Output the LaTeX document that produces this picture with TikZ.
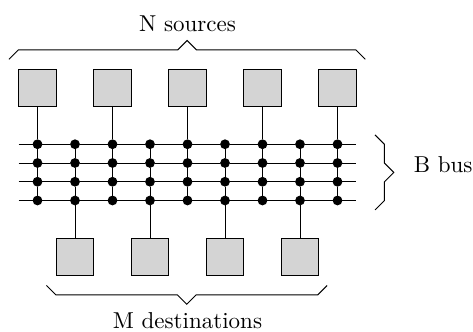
\documentclass[tikz,border=0pt]{standalone}
\usepackage{tikz}
\usetikzlibrary{graphs,positioning}
\definecolor{unitgray}{gray}{0.83}
\tikzset{
    dot/.style ={
        shape=circle,
        draw=black,
        fill=black,
        inner sep=0pt,
        minimum size=3.8pt
    },
    unit/.style ={
        shape=rectangle,
        draw=black,
        fill=unitgray,
        inner sep=0pt,
        minimum size=16.3pt
    },
    caption/.style ={
        inner sep=0pt
    }
}

\begin{document}
\begin{tikzpicture}[node distance=8.15pt and 16.3pt,on grid]
    \useasboundingbox (-16.3pt,62.7pt) rectangle (189.3pt,-81.2pt);
    % bus rows
    \node[dot] (a1) at (0,0) {};
    \node[dot,right=of a1] (a2) {};
    \node[dot,right=of a2] (a3) {};
    \node[dot,right=of a3] (a4) {};
    \node[dot,right=of a4] (a5) {};
    \node[dot,right=of a5] (a6) {};
    \node[dot,right=of a6] (a7) {};
    \node[dot,right=of a7] (a8) {};
    \node[dot,right=of a8] (a9) {};
    \node[dot,below=of a1] (b1) {};
    \node[dot,below=of a2] (b2) {};
    \node[dot,below=of a3] (b3) {};
    \node[dot,below=of a4] (b4) {};
    \node[dot,below=of a5] (b5) {};
    \node[dot,below=of a6] (b6) {};
    \node[dot,below=of a7] (b7) {};
    \node[dot,below=of a8] (b8) {};
    \node[dot,below=of a9] (b9) {};
    \node[dot,below=of b1] (c1) {};
    \node[dot,below=of b2] (c2) {};
    \node[dot,below=of b3] (c3) {};
    \node[dot,below=of b4] (c4) {};
    \node[dot,below=of b5] (c5) {};
    \node[dot,below=of b6] (c6) {};
    \node[dot,below=of b7] (c7) {};
    \node[dot,below=of b8] (c8) {};
    \node[dot,below=of b9] (c9) {};
    \node[dot,below=of c1] (d1) {};
    \node[dot,below=of c2] (d2) {};
    \node[dot,below=of c3] (d3) {};
    \node[dot,below=of c4] (d4) {};
    \node[dot,below=of c5] (d5) {};
    \node[dot,below=of c6] (d6) {};
    \node[dot,below=of c7] (d7) {};
    \node[dot,below=of c8] (d8) {};
    \node[dot,below=of c9] (d9) {};
    % free ends of the bus
    \coordinate[left=8.15pt of a1] (a0);
    \coordinate[left=8.15pt of b1] (b0);
    \coordinate[left=8.15pt of c1] (c0);
    \coordinate[left=8.15pt of d1] (d0);
    \coordinate[right=8.15pt of a9] (a10);
    \coordinate[right=8.15pt of b9] (b10);
    \coordinate[right=8.15pt of c9] (c10);
    \coordinate[right=8.15pt of d9] (d10);
    % sources and destinations
    \node[unit,above=24.5pt of a1] (s1) {};
    \node[unit,above=24.5pt of a3] (s2) {};
    \node[unit,above=24.5pt of a5] (s3) {};
    \node[unit,above=24.5pt of a7] (s4) {};
    \node[unit,above=24.5pt of a9] (s5) {};
    \node[unit,below=24.5pt of d2] (m1) {};
    \node[unit,below=24.5pt of d4] (m2) {};
    \node[unit,below=24.5pt of d6] (m3) {};
    \node[unit,below=24.5pt of d8] (m4) {};
    \graph{
        (a0)--(a1)--(a2)--(a3)--(a4)--(a5)--(a6)--(a7)--(a8)--(a9)--(a10);
        (b0)--(b1)--(b2)--(b3)--(b4)--(b5)--(b6)--(b7)--(b8)--(b9)--(b10);
        (c0)--(c1)--(c2)--(c3)--(c4)--(c5)--(c6)--(c7)--(c8)--(c9)--(c10);
        (d0)--(d1)--(d2)--(d3)--(d4)--(d5)--(d6)--(d7)--(d8)--(d9)--(d10);
        (s1)--(a1)--(b1)--(c1)--(d1);
        (s2)--(a3)--(b3)--(c3)--(d3);
        (s3)--(a5)--(b5)--(c5)--(d5);
        (s4)--(a7)--(b7)--(c7)--(d7);
        (s5)--(a9)--(b9)--(c9)--(d9);
        (a2)--(b2)--(c2)--(d2)--(m1);
        (a4)--(b4)--(c4)--(d4)--(m2);
        (a6)--(b6)--(c6)--(d6)--(m3);
        (a8)--(b8)--(c8)--(d8)--(m4);
    };
    % braces
    \draw (s1.north west) ++(-4.08pt,4.08pt) -- ++(4.08pt,4.08pt) -- ++(69.3pt,0)
        -- ++(4.08pt,4.08pt) -- ++(4.08pt,-4.08pt) -- ++(69.3pt,0) -- ++(4.08pt,-4.08pt);
    \draw (m1.south west) ++(-4.08pt,-4.08pt) -- ++(4.08pt,-4.08pt) -- ++(52.86pt,0)
        -- ++(4.08pt,-4.08pt) -- ++(4.08pt,4.08pt) -- ++(52.86pt,0) -- ++(4.08pt,4.08pt);
    \draw (a9) ++(16.3pt,4.08pt) -- ++(4.08pt,-4.08pt) -- ++(0,-8.15pt)
        -- ++(4.08pt,-4.08pt) -- ++(-4.08pt,-4.08pt) -- ++(0,-8.15pt) -- ++(-4.08pt,-4.08pt);
    % labels
    \node[caption,anchor=base] (nsrc) at ([yshift=16.1pt]s3.north) {N sources};
    \node[caption,anchor=base] (mdst) at ([yshift=-55.8pt]d5) {M destinations};
    \node[caption,anchor=base west] (bbus) at ([xshift=33pt,yshift=-12.3pt]a9) {B bus};
\end{tikzpicture}
\end{document}
